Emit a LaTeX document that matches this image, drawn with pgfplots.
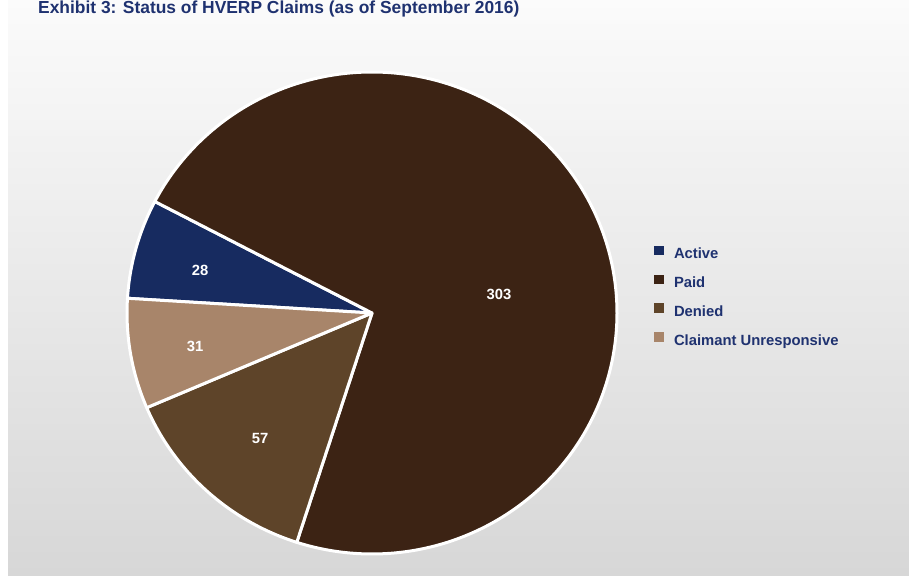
\documentclass[border=0pt]{standalone}
\usepackage{pgfplots}
\pgfplotsset{compat=1.18}
\usepackage{pgfplotstable}
\usepackage{fontspec}
\setmainfont{Liberation Sans}
\definecolor{cActive}{RGB}{23,43,96}
\definecolor{cPaid}{RGB}{60,35,20}
\definecolor{cDenied}{RGB}{94,68,41}
\definecolor{cClaim}{RGB}{168,133,106}
\definecolor{cNavy}{RGB}{31,50,112}
\definecolor{bgTop}{RGB}{251,251,251}
\definecolor{bgBot}{RGB}{215,215,215}

\pgfplotstableread{
label value
Active 28
Paid 303
Denied 57
Claimant 31
}\pietable

\newcommand\startangle{176.5}

\begin{document}
% total and cumulative slice angles (clockwise from the start angle)
\xdef\total{0}%
\foreach \i in {0,...,3}{%
  \pgfplotstablegetelem{\i}{value}\of\pietable
  \pgfmathsetmacro\t{\total+\pgfplotsretval}%
  \xdef\total{\t}}%
\xdef\cum{0}%
\foreach \i/\n in {0/A,1/B,2/C,3/D}{%
  \pgfplotstablegetelem{\i}{value}\of\pietable
  \let\val\pgfplotsretval
  \pgfmathsetmacro\s{\startangle-360*(\cum/\total)}%
  \pgfmathsetmacro\c{\cum+\val}%
  \xdef\cum{\c}%
  \pgfmathsetmacro\e{\startangle-360*(\cum/\total)}%
  \expandafter\xdef\csname slS\n\endcsname{\s}%
  \expandafter\xdef\csname slE\n\endcsname{\e}%
}%
\begin{tikzpicture}
\useasboundingbox (0,0) rectangle (909pt,575pt);
\fill[white] (0,0) rectangle (909pt,575pt);
\shade[top color=bgTop, bottom color=bgBot] (8pt,0) rectangle (909pt,575pt);
\node[anchor=base west, inner sep=0pt, text=cNavy, font=\bfseries\fontsize{17.4}{20}\selectfont]
  at (38pt,561.5pt) {Exhibit 3: Status of HVERP Claims (as of September 2016)};
\begin{axis}[
  at={(372pt,262pt)}, anchor=origin,
  scale only axis, width=490pt, height=482pt,
  xmin=-1, xmax=1, ymin=-1, ymax=1,
  hide axis, clip=false,
  legend image code/.code={\fill[#1, draw=none] (0pt,-0.3pt) rectangle (9.5pt,9.2pt);},
  legend cell align=left,
  legend style={at={(axis cs:1.151,0.2785)}, anchor=north west,
    draw=none, fill=none, inner sep=0pt, outer sep=0pt,
    text=cNavy, font=\bfseries\fontsize{14.8}{17}\selectfont,
    nodes={inner sep=0pt, text height=10.5pt, text depth=3pt},
    row sep=12.8pt, column sep=10.5pt},
  every axis plot/.append style={draw=white, line width=3pt, line join=round},
]
\addplot[fill=cActive, domain=\slEA:\slSA, samples=40] ({cos(x)},{sin(x)}) -- (0,0) -- cycle;
\addlegendentry{Active}
\addplot[fill=cPaid, domain=\slEB:\slSB, samples=240] ({cos(x)},{sin(x)}) -- (0,0) -- cycle;
\addlegendentry{Paid}
\addplot[fill=cDenied, domain=\slEC:\slSC, samples=60] ({cos(x)},{sin(x)}) -- (0,0) -- cycle;
\addlegendentry{Denied}
\addplot[fill=cClaim, domain=\slED:\slSD, samples=40] ({cos(x)},{sin(x)}) -- (0,0) -- cycle;
\addlegendentry{Claimant Unresponsive}
\begin{scope}[every node/.style={text=white, font=\bfseries\fontsize{14.8}{17}\selectfont}]
\node at (axis cs:-0.702,0.175) {28};
\node at (axis cs:0.518,0.079) {303};
\node at (axis cs:-0.457,-0.521) {57};
\node at (axis cs:-0.722,-0.1375) {31};
\end{scope}
\end{axis}
\end{tikzpicture}
\end{document}
